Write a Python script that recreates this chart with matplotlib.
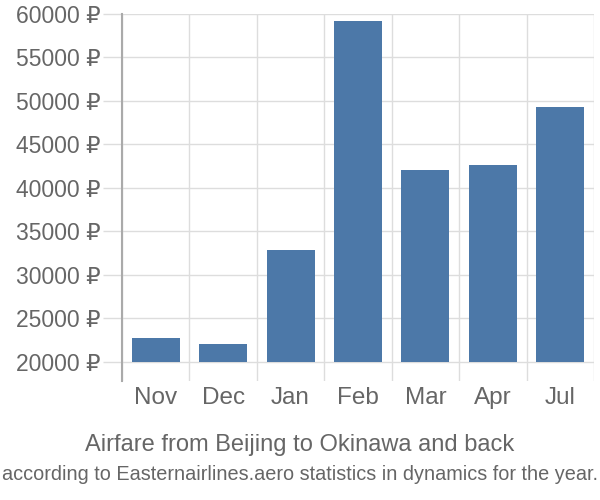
import matplotlib
matplotlib.use("Agg")
import matplotlib.pyplot as plt
import numpy as np

plt.rcParams['font.family'] = ['Liberation Sans', 'DejaVu Sans']

months = ['Nov', 'Dec', 'Jan', 'Feb', 'Mar', 'Apr', 'Jul']
prices = [22730, 22080, 32830, 59190, 42050, 42590, 49280]
yticks = [20000, 25000, 30000, 35000, 40000, 45000, 50000, 55000, 60000]

bar_color = '#4c78a8'
grid_color = '#dddddd'
text_color = '#666666'

fig = plt.figure(figsize=(6, 5), dpi=100)
ax = fig.add_axes([122/600, 1-381/500, (594-122)/600, (381-14)/500])

x = np.arange(len(months))
base = 20000
ax.bar(x, [p - base for p in prices], bottom=base, width=0.71, color=bar_color, zorder=3)

ax.set_xlim(-0.5, len(months) - 0.5)
ax.set_ylim(20000 - 19/347.7*40000, 60000)

ax.set_yticks(yticks)
ax.set_yticklabels([f'{v} ₽' for v in yticks])
ax.set_xticks(x)
ax.set_xticklabels(months)
ax.set_xticks(np.arange(-0.5, len(months)), minor=True)

ax.grid(True, axis='y', color=grid_color, linewidth=1, zorder=0)
ax.grid(True, axis='x', which='minor', color=grid_color, linewidth=1, zorder=0)
ax.tick_params(axis='y', length=14, width=1, color=grid_color, pad=1.5,
               labelsize=16.5, labelcolor=text_color)
ax.tick_params(axis='x', which='major', length=0, pad=4, labelsize=17.5, labelcolor=text_color)
ax.tick_params(axis='x', which='minor', length=0)

for s in ['top', 'right', 'bottom']:
    ax.spines[s].set_visible(False)
ax.spines['left'].set_color('#aaaaaa')
ax.spines['left'].set_linewidth(1.5)

fig.text(0.5, 1-445/500, 'Airfare from Beijing to Okinawa and back',
         ha='center', va='center', fontsize=17, color=text_color)
fig.text(0.5, 1-474/500, 'according to Easternairlines.aero statistics in dynamics for the year.',
         ha='center', va='center', fontsize=14.3, color=text_color)

fig.savefig('out.png', dpi=100)
